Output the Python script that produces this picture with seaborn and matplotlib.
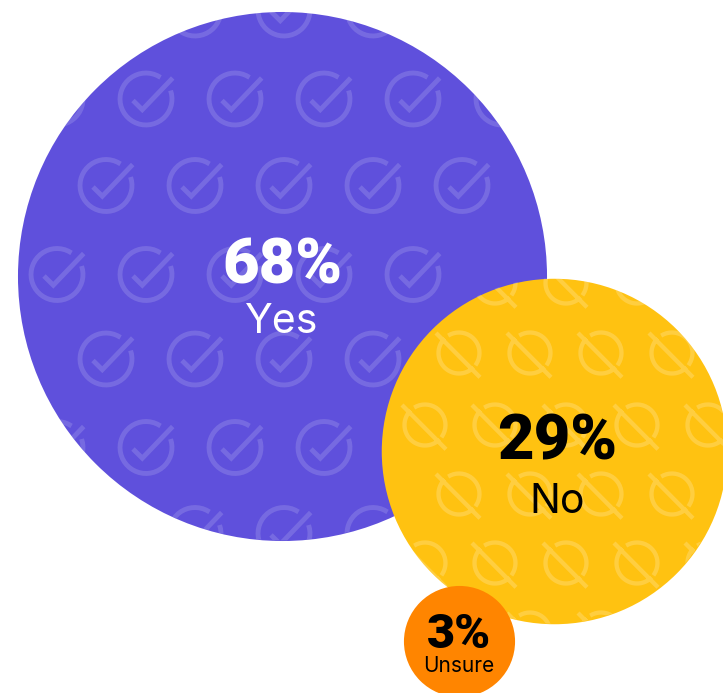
import numpy as np
import pandas as pd
import seaborn as sns
import matplotlib.pyplot as plt
from matplotlib.patches import Circle, PathPatch
from matplotlib.path import Path

# Data
answers = ['Yes', 'No', 'Unsure']
percents = [68, 29, 3]
percent_labels = ['68%', '29%', '3%']

# Layout of the bubbles, in figure pixels
centre_x = [282, 554, 458.5]
centre_y = [276, 451, 641]
colors = ['#5F50DC', '#FFC211', '#FF8500']
text_colors = ['white', 'black', 'black']
px_per_pct = 1029  # squared radius per percent
big_size = [45.5, 45.5, 35]
small_size = [29.5, 29.5, 15]
big_base = [283, 460, 648]
small_base = [333, 513, 672]
big_x = [282.5, 557.5, 459.5]
small_x = [281.5, 557.5, 459]

df = pd.DataFrame({'answer': answers, 'pct': percents, 'x': centre_x, 'y': centre_y})

# Background icon grids
check_rows = [
    (10, [195, 284, 373]),
    (99, [57, 146, 235, 324, 413, 502]),
    (185.5, [106, 195, 284, 373, 462]),
    (274.5, [57, 146, 235, 324, 413]),
    (359, [106, 195, 284, 373]),
    (447.5, [57, 146, 235, 324]),
    (533.5, [195, 284, 373]),
]
slash_rows = [
    (283, [495, 566, 637]),
    (353, [459, 530, 601, 672]),
    (425, [425, 495, 566, 637, 708]),
    (494, [459, 530, 601, 672]),
    (563, [425, 495, 566, 637, 708]),
    (633, [530, 601]),
]


def arc(cx, cy, r, start, end):
    t = np.radians(np.linspace(start, end, 40))
    return np.column_stack([cx + r * np.cos(t), cy - r * np.sin(t)])


def add_line(verts, codes, pts):
    verts.extend(pts.tolist())
    codes.extend([Path.MOVETO] + [Path.LINETO] * (len(pts) - 1))


def check_icons(rows):
    verts, codes = [], []
    for y, xs in rows:
        for x in xs:
            add_line(verts, codes, arc(x, y, 26, 56, 379))
            add_line(verts, codes, np.array([[x - 13, y + 1.5], [x - 3.7, y + 10.7], [x + 26.7, y - 21]]))
    return Path(verts, codes)


def slash_icons(rows):
    verts, codes = [], []
    for y, xs in rows:
        for x in xs:
            add_line(verts, codes, arc(x, y, 20.5, 122, -37))
            add_line(verts, codes, arc(x, y, 20.5, 135, 315))
            add_line(verts, codes, np.array([[x - 23, y - 20], [x + 21, y + 24.3]]))
    return Path(verts, codes)


sns.set_theme(style='white')
plt.rcParams['font.family'] = ['Inter', 'DejaVu Sans']

fig, ax = plt.subplots(figsize=(7.23, 6.93), dpi=100)
ax.set_position([0, 0, 1, 1])

# each bubble gets its own call so the icons can sit between them
for i, row in df.iterrows():
    area = 4 * px_per_pct * row['pct'] * 0.72 ** 2
    sns.scatterplot(data=df.iloc[[i]], x='x', y='y', s=area, color=colors[i],
                    linewidth=0, zorder=2 * i + 1, legend=False, ax=ax)

ax.set_xlim(0, 723)
ax.set_ylim(693, 0)
ax.axis('off')

# Icons clipped to their bubble
for i, path, lw, alpha in [(0, check_icons(check_rows), 3.5, 0.15),
                           (1, slash_icons(slash_rows), 3.1, 0.2)]:
    radius = np.sqrt(px_per_pct * percents[i])
    patch = PathPatch(path, fill=False, edgecolor='white', alpha=alpha, lw=lw,
                      capstyle='butt', joinstyle='miter', zorder=2 * i + 2)
    ax.add_patch(patch)
    patch.set_clip_path(Circle((centre_x[i], centre_y[i]), radius, transform=ax.transData))

# Labels
for i in range(3):
    ax.text(big_x[i], big_base[i], percent_labels[i], color=text_colors[i], fontsize=big_size[i],
            family=['Roboto', 'DejaVu Sans'], fontweight='black', ha='center', va='baseline', zorder=10)
    ax.text(small_x[i], small_base[i], answers[i], color=text_colors[i], fontsize=small_size[i],
            fontweight='normal', ha='center', va='baseline', zorder=10)

fig.savefig('out.png', dpi=100)
